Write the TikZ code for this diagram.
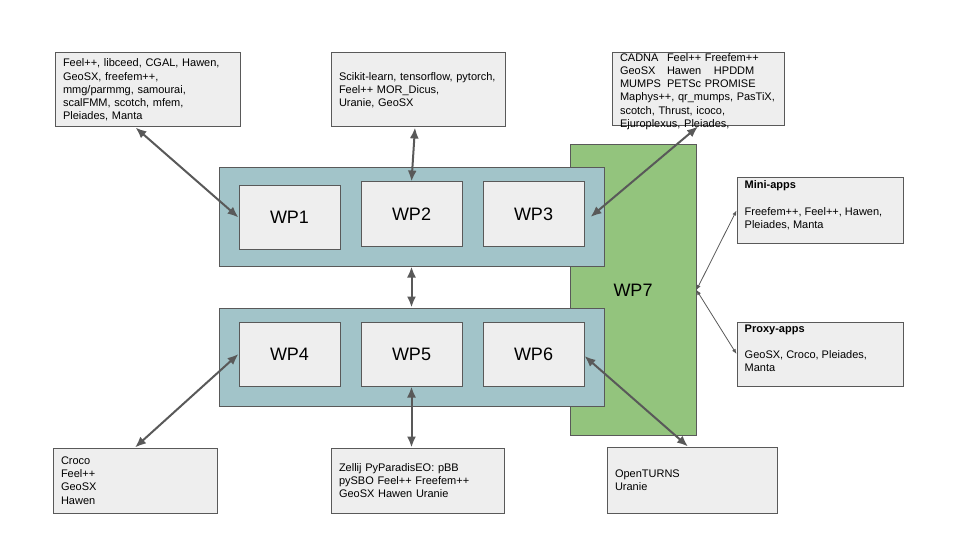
\documentclass[tikz,border=0pt]{standalone}
\usepackage{fontspec}
\setmainfont{Liberation Sans}
\usetikzlibrary{arrows.meta,positioning}
\definecolor{linegray}{HTML}{595959}
\definecolor{boxgray}{HTML}{EEEEEE}
\definecolor{wpblue}{HTML}{A2C4C9}
\definecolor{wpgreen}{HTML}{93C47D}

\begin{document}
\begin{tikzpicture}[x=1pt, y=-1pt]
        \tikzstyle{group} = [rectangle, draw=linegray, fill=wpblue, line width=1pt, minimum width=385pt, minimum height=98pt]
        \tikzstyle{wp} = [rectangle, draw=linegray, fill=boxgray, line width=1pt, minimum width=101pt, minimum height=64pt, font=\fontsize{18}{21}\selectfont]
        \tikzstyle{lib} = [rectangle, draw=linegray, fill=boxgray, line width=1pt, align=left, inner xsep=8pt, font=\fontsize{11}{13.2}\selectfont]
        \tikzstyle{lib text} = [align=left, inner sep=0pt, font=\fontsize{11}{13.2}\selectfont]
        \tikzstyle{line} = [draw=linegray, line width=2pt, {Latex[length=11pt,width=9pt]}-{Latex[length=11pt,width=9pt]}]
        \tikzstyle{thin line} = [draw=linegray, line width=0.8pt, {Latex[length=5pt,width=4pt]}-{Latex[length=5pt,width=4pt]}]

    \useasboundingbox (0,0) rectangle (960,540);

    % work packages
    \node [rectangle, draw=linegray, fill=wpgreen, line width=1pt, minimum width=126pt, minimum height=290pt, font=\fontsize{18}{21}\selectfont] (wp7) at (633,290) {WP7};
    \node [group] (top group) at (411.5,217) {};
    \node [group] (bottom group) at (411.5,357) {};
    \node [wp] (wp1) at (289.5,217.5) {WP1};
    \node [wp, right=20pt of wp1, yshift=3.5pt] (wp2) {WP2};
    \node [wp, right=20pt of wp2] (wp3) {WP3};
    \node [wp] (wp4) at (289.5,354) {WP4};
    \node [wp, right=20pt of wp4] (wp5) {WP5};
    \node [wp, right=20pt of wp5] (wp6) {WP6};

    % software boxes
    \node [lib, text width=169pt, minimum height=74pt] (libs1) at (147.5,90) {Feel++, libceed, CGAL, Hawen,\\ GeoSX, freefem++,\\ mmg/parmmg, samourai,\\ scalFMM, scotch, mfem,\\ Pleiades, Manta};
    \node [lib, text width=158pt, minimum height=74pt] (libs2) at (418,90) {Scikit-learn, tensorflow, pytorch,\\ Feel++ MOR\_Dicus,\\ Uranie, GeoSX};
    \node [lib, minimum width=172pt, minimum height=73pt] (libs3) at (698,89.5) {};
    \node [lib text, text width=156pt] (libs3 text) at ([yshift=-2pt]libs3) {\makebox[47pt][l]{CADNA}Feel++ Freefem++\\ \makebox[47pt][l]{GeoSX}\makebox[47pt][l]{Hawen}HPDDM\\ \makebox[47pt][l]{MUMPS}PETSc PROMISE\\ Maphys++, qr\_mumps, PasTiX,\\ scotch, Thrust, icoco,\\ Ejuroplexus, Pleiades,};
    \node [lib, minimum width=166pt, minimum height=65pt] (mini apps) at (820,210.5) {};
    \node [lib text, anchor=north west] (mini apps text) at ([xshift=8pt,yshift=-3pt]mini apps.north west) {\textbf{Mini-apps}\\[13.2pt] Freefem++, Feel++, Hawen,\\ Pleiades, Manta};
    \node [lib, minimum width=166pt, minimum height=64pt] (proxy apps) at (820,354) {};
    \node [lib text, anchor=north west] (proxy apps text) at ([xshift=8pt,yshift=-3pt]proxy apps.north west) {\textbf{Proxy-apps}\\[13.2pt] GeoSX, Croco, Pleiades,\\ Manta};
    \node [lib, text width=148pt, minimum height=65pt] (libs4) at (135,480.5) {Croco\\ Feel++\\ GeoSX\\ Hawen};
    \node [lib, text width=157pt, minimum height=65pt] (libs5) at (417.5,480.5) {Zellij PyParadisEO: pBB\\ pySBO Feel++ Freefem++\\ GeoSX Hawen Uranie};
    \node [lib, text width=154pt, minimum height=66pt] (libs6) at (692,480) {OpenTURNS\\ Uranie};

    \path [line] ([xshift=-12pt]libs1.south) -- (wp1.west);
    \path [line] ([xshift=-3pt]libs2.south) -- (wp2.north);
    \path [line] (libs3.south) -- ([xshift=6pt,yshift=-3pt]wp3.east);
    \path [line] (top group.south) -- (bottom group.north);
    \path [line] (wp4.west) -- (libs4.north);
    \path [line] (wp5.south) -- (wp5.south |- libs5.north);
    \path [line] ([yshift=-2pt]wp6.east) -- ([xshift=-4pt]libs6.north);
    \path [thin line] (wp7.east) -- (mini apps.west);
    \path [thin line] (wp7.east) -- (proxy apps.west);
\end{tikzpicture}
\end{document}
